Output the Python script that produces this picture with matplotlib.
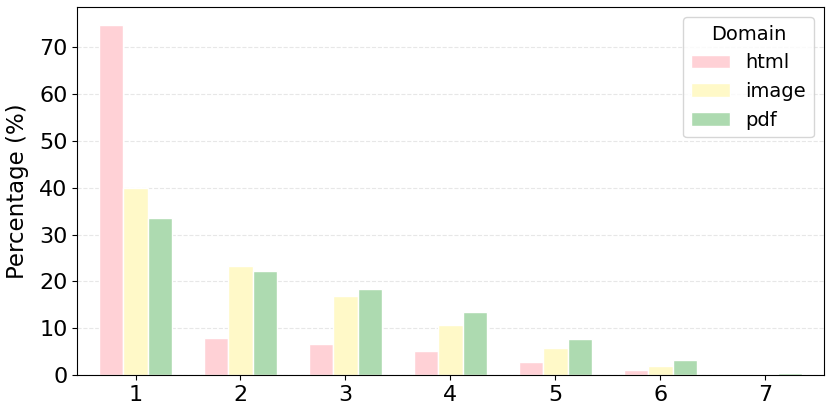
import numpy as np
import matplotlib
matplotlib.use("Agg")
import matplotlib.pyplot as plt

positions = [1, 2, 3, 4, 5, 6, 7]
domains = ["html", "image", "pdf"]
html = [74.75, 7.9, 6.75, 5.25, 2.9, 1.1, 0.05]
image = [39.9, 23.2, 16.8, 10.8, 5.8, 2.0, 0.25]
pdf = [33.5, 22.2, 18.5, 13.5, 7.7, 3.2, 0.5]
colors = ["#FFD1D6", "#FFF9C8", "#ADDAB0"]

fig, ax = plt.subplots(figsize=(8.31, 4.12), dpi=100)
fig.subplots_adjust(left=0.093, right=0.991, top=0.983, bottom=0.089)

x = np.array(positions)
w = 0.7 / 3
for i, (name, vals) in enumerate(zip(domains, [html, image, pdf])):
    ax.bar(x + (i - 1) * w, vals, width=w, color=colors[i], edgecolor="white",
           linewidth=1, label=name, zorder=2)

ax.set_xlim(0.445, 7.555)
ax.set_ylim(0, max(html) * 1.05)
ax.set_xticks(positions)
ax.tick_params(axis="both", labelsize=16)
ax.set_ylabel("Percentage (%)", fontsize=16.5, labelpad=7)
ax.yaxis.grid(True, linestyle="--", color="#dddddd", alpha=0.7, zorder=0)
ax.set_axisbelow(True)

ax.legend(title="Domain", fontsize=14, title_fontsize=14, loc="upper right")

plt.savefig("out.png", dpi=100)
